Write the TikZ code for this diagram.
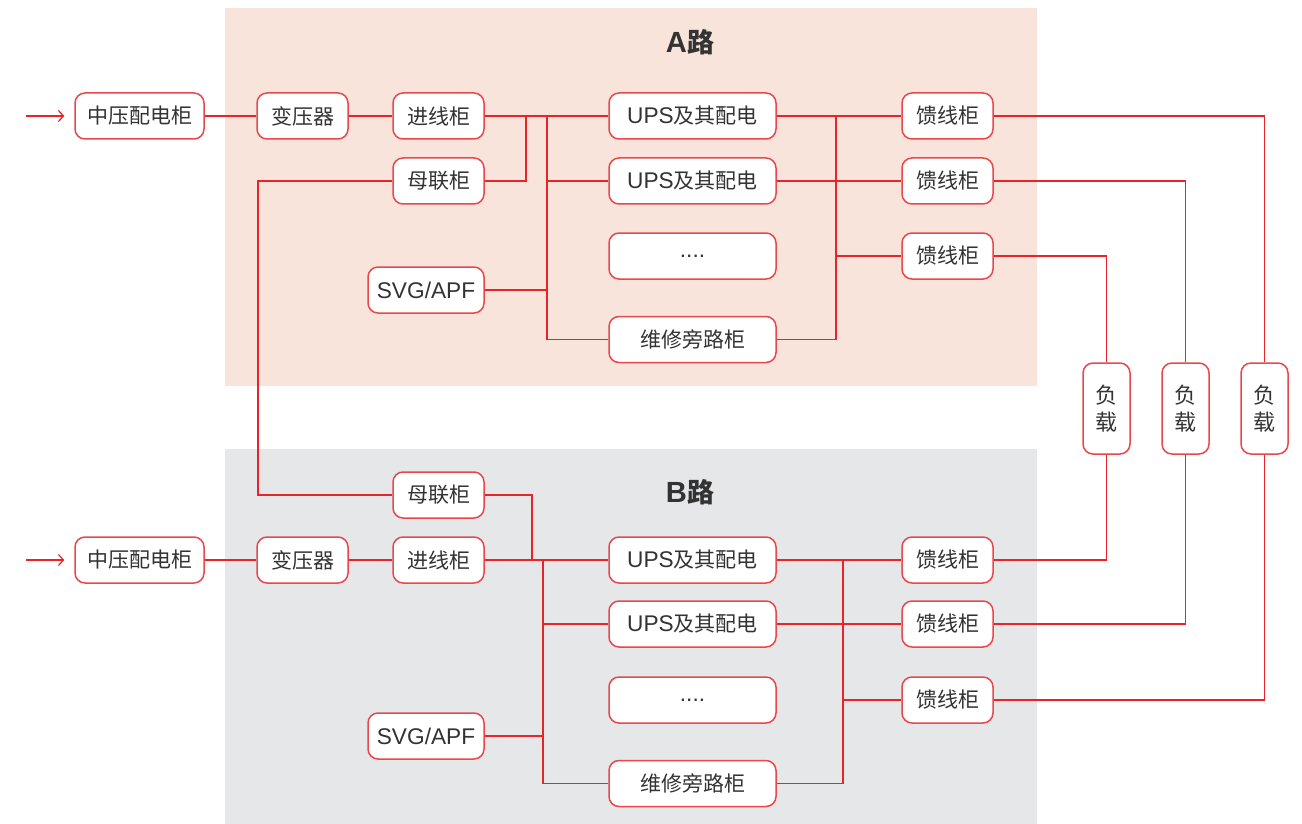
\documentclass[tikz,border=0pt]{standalone}
\usepackage{fontspec}
\setmainfont{Liberation Sans}[Scale=1.08]
\newfontfamily\cjk{Noto Sans CJK SC}
\usetikzlibrary{positioning,arrows.meta}
\definecolor{linered}{HTML}{E8232A}
\definecolor{boxred}{HTML}{E8474C}
\definecolor{bgA}{HTML}{F9E4DC}
\definecolor{bgB}{HTML}{E6E7E9}
\definecolor{txt}{HTML}{333333}

\begin{document}
\begin{tikzpicture}[x=1pt,y=-1pt,
    box/.style={draw=boxred,line width=1.5pt,fill=white,rounded corners=10pt,
      minimum height=46pt,inner sep=0pt,text=txt,font=\fontsize{21}{25}\selectfont},
    loadbox/.style={box,minimum width=47pt,minimum height=91pt,align=center,
      font=\fontsize{22}{27}\selectfont},
    wire/.style={draw=linered,line width=1.2pt},
    feed/.style={wire,-{Straight Barb[length=5pt,width=11pt]},shorten >=10pt},
    title/.style={text=txt,font=\fontsize{27}{30}\selectfont\bfseries}]
  \useasboundingbox (0,0) rectangle (1302,824);
  % backgrounds
  \fill[bgA] (225,8) rectangle (1037,386);
  \fill[bgB] (225,449) rectangle (1037,824);
  \node[title] (titleA) at (690,42) {A{\cjk 路}};
  \node[title] (titleB) at (690,492) {B{\cjk 路}};

  % A path
  \node[box,minimum width=129pt](mvA) at (139.5,116) {\cjk 中压配电柜};
  \node[box,minimum width=91pt](trA) at (302.5,116) {\cjk 变压器};
  \node[box,minimum width=91pt](inA) at (438.5,116) {\cjk 进线柜};
  \node[box,minimum width=91pt](tieA) at (438.5,181) {\cjk 母联柜};
  \node[box,minimum width=116pt](svgA) at (426,290) {SVG/APF};
  \node[box,minimum width=167pt](upsA1) at (692.5,116) {UPS{\cjk 及其配电}};
  \node[box,minimum width=167pt](upsA2) at (692.5,181) {UPS{\cjk 及其配电}};
  \node[box,minimum width=167pt](dotsA) at (692.5,256) {....};
  \node[box,minimum width=167pt](bypA) at (692.5,339.5) {\cjk 维修旁路柜};
  \node[box,minimum width=91pt](feedA1) at (947.5,116) {\cjk 馈线柜};
  \node[box,minimum width=91pt](feedA2) at (947.5,181) {\cjk 馈线柜};
  \node[box,minimum width=91pt](feedA3) at (947.5,256) {\cjk 馈线柜};

  % loads
  \node[loadbox](load1) at (1106.5,408.5) {\cjk 负\\\cjk 载};
  \node[loadbox](load2) at (1185.5,408.5) {\cjk 负\\\cjk 载};
  \node[loadbox](load3) at (1264.5,408.5) {\cjk 负\\\cjk 载};

  % B path
  \node[box,minimum width=129pt](mvB) at (139.5,560) {\cjk 中压配电柜};
  \node[box,minimum width=91pt](trB) at (302.5,560) {\cjk 变压器};
  \node[box,minimum width=91pt](inB) at (438.5,560) {\cjk 进线柜};
  \node[box,minimum width=91pt](tieB) at (438.5,495) {\cjk 母联柜};
  \node[box,minimum width=116pt](svgB) at (426,736) {SVG/APF};
  \node[box,minimum width=167pt](upsB1) at (692.5,560) {UPS{\cjk 及其配电}};
  \node[box,minimum width=167pt](upsB2) at (692.5,624) {UPS{\cjk 及其配电}};
  \node[box,minimum width=167pt](dotsB) at (692.5,700) {....};
  \node[box,minimum width=167pt](bypB) at (692.5,783.5) {\cjk 维修旁路柜};
  \node[box,minimum width=91pt](feedB1) at (947.5,560) {\cjk 馈线柜};
  \node[box,minimum width=91pt](feedB2) at (947.5,624) {\cjk 馈线柜};
  \node[box,minimum width=91pt](feedB3) at (947.5,700) {\cjk 馈线柜};

  % junction points
  \coordinate (srcA) at (26,116);
  \coordinate (srcB) at (26,560);
  \coordinate (tapA) at (526,116);
  \coordinate (busA) at (547,116);
  \coordinate (outA) at (836,116);
  \coordinate (tapB) at (532,560);
  \coordinate (busB) at (543,560);
  \coordinate (outB) at (843,560);
  \coordinate (tieX) at (258,181);

  % A wires
  \draw[feed] (srcA) -- (mvA.west);
  \draw[wire] (mvA.east) -- (trA.west);
  \draw[wire] (trA.east) -- (inA.west);
  \draw[wire] (inA.east) -- (upsA1.west);
  \draw[wire] (tieA.east) -| (tapA);
  \draw[wire] (busA) |- (bypA.west);
  \draw[wire] (upsA2.west) -- (upsA2.west -| busA);
  \draw[wire] (svgA.east) -- (svgA.east -| busA);
  \draw[wire] (upsA1.east) -- (feedA1.west);
  \draw[wire] (upsA2.east) -- (feedA2.west);
  \draw[wire] (outA) |- (bypA.east);
  \draw[wire] (feedA3.west) -- (feedA3.west -| outA);

  % tie between A and B
  \draw[wire] (tieA.west) -- (tieX) |- (tieB.west);

  % B wires
  \draw[feed] (srcB) -- (mvB.west);
  \draw[wire] (mvB.east) -- (trB.west);
  \draw[wire] (trB.east) -- (inB.west);
  \draw[wire] (inB.east) -- (upsB1.west);
  \draw[wire] (tieB.east) -| (tapB);
  \draw[wire] (busB) |- (bypB.west);
  \draw[wire] (upsB2.west) -- (upsB2.west -| busB);
  \draw[wire] (svgB.east) -- (svgB.east -| busB);
  \draw[wire] (upsB1.east) -- (feedB1.west);
  \draw[wire] (upsB2.east) -- (feedB2.west);
  \draw[wire] (outB) |- (bypB.east);
  \draw[wire] (feedB3.west) -- (feedB3.west -| outB);

  % feeders to loads
  \draw[wire] (feedA1.east) -| (load3.north);
  \draw[wire] (feedA2.east) -| (load2.north);
  \draw[wire] (feedA3.east) -| (load1.north);
  \draw[wire] (load1.south) |- (feedB1.east);
  \draw[wire] (load2.south) |- (feedB2.east);
  \draw[wire] (load3.south) |- (feedB3.east);
\end{tikzpicture}
\end{document}
